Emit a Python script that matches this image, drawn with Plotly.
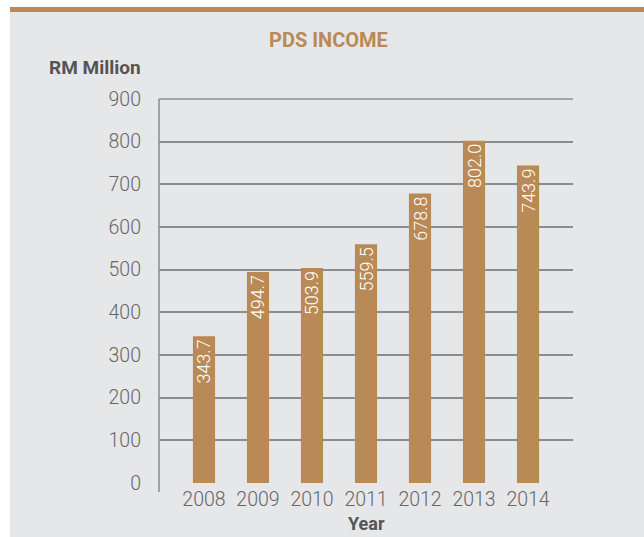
import plotly.graph_objects as go

years = ["2008", "2009", "2010", "2011", "2012", "2013", "2014"]
income = [343.7, 494.7, 503.9, 559.5, 678.8, 802.0, 743.9]
labels = ["343.7", "494.7", "503.9", "559.5", "678.8", "802.0", "743.9"]
yticks = [0, 100, 200, 300, 400, 500, 600, 700, 800, 900]

BROWN = "#b98a56"
GRAY_BG = "#e6e7e9"
FONT = "Roboto, Arial"
GRID = "#8c8c8c"

fig = go.Figure()
fig.add_trace(go.Bar(
    x=years, y=income, text=labels, textposition="inside",
    insidetextanchor="end", textangle=-90,
    textfont=dict(color="white", size=18, family=FONT, weight=300),
    marker=dict(color=BROWN, line=dict(width=0)),
    width=0.41, cliponaxis=False,
))

W, H = 644, 537
L, R, T, B = 159, 71, 99, 54
pw, ph = W - L - R, H - T - B

def px(x):
    return (x - L) / pw

def py(y):
    return (H - B - y) / ph

fig.update_layout(
    width=W, height=H,
    margin=dict(l=L, r=R, t=T, b=B),
    paper_bgcolor="white", plot_bgcolor="rgba(0,0,0,0)",
    showlegend=False,
    uniformtext=dict(minsize=18, mode="show"),
    font=dict(family=FONT, color="#666666", size=19),
    xaxis=dict(range=[-0.833, 6.833], showgrid=False, showline=False,
               ticks="", tickfont=dict(size=19.5, color="#666666", weight=300),
               ticklabelstandoff=2, zeroline=False),
    yaxis=dict(range=[0, 900], tickvals=yticks, showgrid=True,
               gridcolor=GRID, gridwidth=1.5, showline=False,
               zeroline=False, ticks="", ticklabelstandoff=17,
               tickfont=dict(size=19.5, color="#666666", weight=300)),
    shapes=[
        dict(type="rect", xref="paper", yref="paper", x0=px(10), x1=px(650),
             y0=py(537), y1=py(12), fillcolor=GRAY_BG, line=dict(width=0), layer="below"),
        dict(type="rect", xref="paper", yref="paper", x0=px(10), x1=px(650),
             y0=py(12), y1=py(7), fillcolor=BROWN, line=dict(width=0), layer="below"),
        dict(type="line", xref="paper", yref="paper", x0=0, x1=1,
             y0=1, y1=1, line=dict(color=GRID, width=1.5), layer="below"),
        dict(type="line", xref="paper", yref="paper", x0=0, x1=0,
             y0=py(492), y1=1, line=dict(color=GRID, width=1.5)),
    ],
    annotations=[
        dict(text="<b>PDS INCOME</b>", xref="paper", yref="paper", x=px(328), y=py(40),
             showarrow=False, font=dict(size=20, color=BROWN, family=FONT),
             xanchor="center", yanchor="middle"),
        dict(text="<b>RM Million</b>", xref="paper", yref="paper", x=px(47), y=py(68),
             showarrow=False, font=dict(size=19, color="#555555", family=FONT),
             xanchor="left", yanchor="middle"),
        dict(text="<b>Year</b>", xref="paper", yref="paper", x=px(366), y=py(523),
             showarrow=False, font=dict(size=18, color="#555555", family=FONT),
             xanchor="center", yanchor="middle"),
    ],
)

fig.write_html("out.html")
